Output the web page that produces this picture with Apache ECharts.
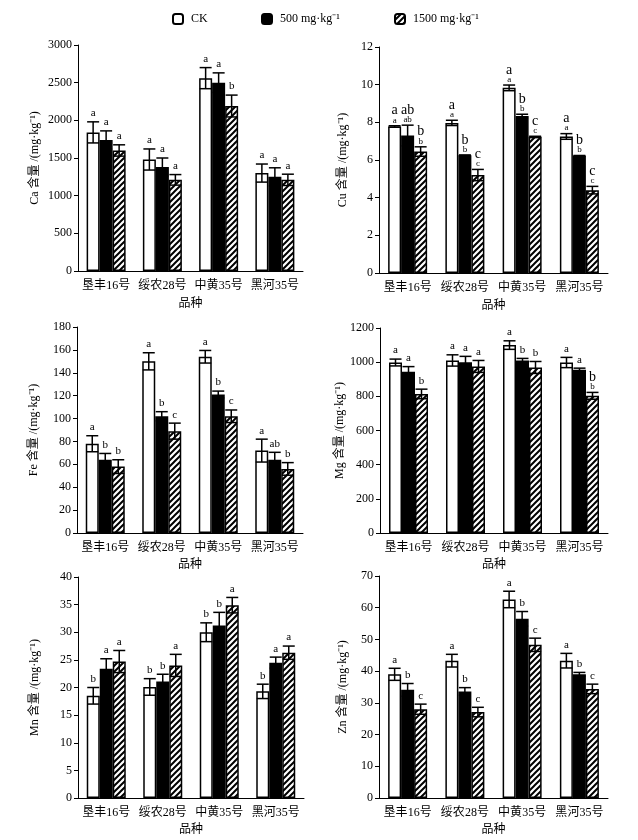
<!DOCTYPE html>
<html>
<head>
<meta charset="utf-8">
<script src="https://cdn.jsdelivr.net/npm/echarts@6/dist/echarts.min.js"></script>
<style>
html,body{margin:0;padding:0;background:#fff;}
#main{width:638px;height:840px;}
</style>
</head>
<body>
<div id="main"></div>
<script>
var varieties=['垦丰16号','绥农28号','中黄35号','黑河35号'];
var treatments=['CK','500 mg·kg⁻¹','1500 mg·kg⁻¹'];

// rows: CK, 500, 1500 ; columns follow varieties
var caMeans=[[1840,1480,2560,1300],[1740,1380,2500,1250],[1600,1210,2190,1210]];
var caErrs=[[140,140,140,120],[120,120,130,120],[75,70,145,75]];
var caLetters=[['a','a','a','a'],['a','a','a','a'],['a','a','b','a']];

var cuMeans=[[7.78,7.97,9.83,7.25],[7.3,6.25,8.33,6.22],[6.45,5.2,7.23,4.4]];
var cuErrs=[[0.04,0.14,0.15,0.15],[0.55,0.02,0.1,0.02],[0.25,0.3,0.03,0.2]];
var cuLetters=[['a/a','a/a','a/a','a/a'],['ab/ab','b/b','b/b','b/b'],['b/b','c/c','c/c','c/c']];

var feMeans=[[78,150,154,72],[64,102,121,64],[58,89,102,56]];
var feErrs=[[7,7.5,5.5,10],[5.5,4,3,6.5],[6,7,5.5,5.5]];
var feLetters=[['a','a','a','a'],['b','b','b','ab'],['b','c','c','b']];

var mgMeans=[[998,1010,1100,998],[944,1000,1010,955],[814,975,969,803]];
var mgErrs=[[20,33,25,30],[30,34,12,10],[28,35,35,20]];
var mgLetters=[['a','a','a','a'],['a','a','b','a'],['b','a','b','b/b']];

var mnMeans=[[18.5,20.1,30,19.3],[23.4,21.1,31.2,24.5],[24.7,24,34.9,26.3]];
var mnErrs=[[1.5,1.5,1.7,1.3],[1.8,1.3,2.4,1],[2,2,1.4,1.2]];
var mnLetters=[['b','b','b','b'],['a','b','b','a'],['a','a','a','a']];

var znMeans=[[39,43.3,62.6,43.3],[34.1,33.6,56.5,39],[28,27.1,48.3,34.4]];
var znErrs=[[1.9,2,2.6,2.3],[2,1.2,2.3,0.6],[1.6,1.5,2.1,1.5]];
var znLetters=[['a','a','a','a'],['b','b','b','b'],['c','c','c','c']];

var yNames=['Ca 含量 /(mg·kg⁻¹)','Cu 含量 /(mg·kg⁻¹)','Fe 含量 /(mg·kg⁻¹)','Mg 含量 /(mg·kg⁻¹)','Mn 含量 /(mg·kg⁻¹)','Zn 含量 /(mg·kg⁻¹)'];
var yMax=[3000,12,180,1200,40,70];
var yStep=[500,2,20,200,5,10];

var panels=[
    {means:caMeans,errs:caErrs,letters:caLetters},
    {means:cuMeans,errs:cuErrs,letters:cuLetters},
    {means:feMeans,errs:feErrs,letters:feLetters},
    {means:mgMeans,errs:mgErrs,letters:mgLetters},
    {means:mnMeans,errs:mnErrs,letters:mnLetters},
    {means:znMeans,errs:znErrs,letters:znLetters}
];

var grids=[
    {left:78,top:45,width:225,height:226},
    {left:379,top:47,width:229,height:226},
    {left:77,top:327,width:226,height:206},
    {left:380,top:328,width:228,height:205},
    {left:78,top:577,width:226,height:221},
    {left:379,top:576,width:229,height:222}
];

var FONT='"Liberation Serif","Noto Sans CJK SC",serif';
var BAR_W=13;

function makeHatch(){
    var c=document.createElement('canvas');
    c.width=6;c.height=6;
    var ctx=c.getContext('2d');
    ctx.fillStyle='#fff';
    ctx.fillRect(0,0,6,6);
    ctx.strokeStyle='#000';
    ctx.lineWidth=2;
    ctx.beginPath();
    ctx.moveTo(0,6);ctx.lineTo(6,0);
    ctx.moveTo(-3,3);ctx.lineTo(3,-3);
    ctx.moveTo(3,9);ctx.lineTo(9,3);
    ctx.stroke();
    return c;
}
var hatch={image:makeHatch(),repeat:'repeat'};
var fills=['#fff','#000',hatch];

var xAxes=[],yAxes=[],series=[];

grids.forEach(function(g,i){
    xAxes.push({
        type:'category',gridIndex:i,data:varieties,
        name:'品种',nameLocation:'middle',nameGap:i<2?27:26,
        nameTextStyle:{fontFamily:FONT,fontSize:12,color:'#000'},
        axisLine:{lineStyle:{color:'#000',width:1}},
        axisTick:{length:4,lineStyle:{color:'#000'}},
        axisLabel:{fontFamily:FONT,fontSize:12,color:'#000',margin:9,interval:0}
    });
    yAxes.push({
        type:'value',gridIndex:i,min:0,max:yMax[i],interval:yStep[i],
        name:yNames[i],nameLocation:'middle',nameGap:i%2==0?37:30,
        nameTextStyle:{fontFamily:FONT,fontSize:12,color:'#000'},
        axisLine:{show:true,lineStyle:{color:'#000',width:1}},
        axisTick:{show:true,length:4,lineStyle:{color:'#000'}},
        axisLabel:{fontFamily:FONT,fontSize:12,color:'#000',margin:6,
            formatter:function(v){return String(v);}},
        splitLine:{show:false}
    });

    var p=panels[i];
    var errData=[],errLetters=[];
    treatments.forEach(function(t,k){
        series.push({
            name:t,type:'bar',xAxisIndex:i,yAxisIndex:i,
            barWidth:BAR_W,barGap:'0%',
            itemStyle:{color:fills[k],borderColor:'#000',borderWidth:1.5},
            data:p.means[k]
        });
        p.means[k].forEach(function(v,c){
            errData.push([c,k,v,p.errs[k][c]]);
            errLetters.push(p.letters[k][c]);
        });
    });

    series.push({
        type:'custom',xAxisIndex:i,yAxisIndex:i,z:5,clip:false,
        encode:{x:0,y:2},
        data:errData,
        renderItem:function(params,api){
            var c=api.value(0),k=api.value(1),v=api.value(2),e=api.value(3);
            var top=api.coord([c,v+e]);
            var bot=api.coord([c,v-e]);
            var x=top[0]+(k-1)*BAR_W;
            var hw=6;
            var st={stroke:'#000',lineWidth:1.5};
            var kids=[
                {type:'line',shape:{x1:x,y1:top[1],x2:x,y2:bot[1]},style:st},
                {type:'line',shape:{x1:x-hw,y1:top[1],x2:x+hw,y2:top[1]},style:st},
                {type:'line',shape:{x1:x-hw,y1:bot[1],x2:x+hw,y2:bot[1]},style:st}
            ];
            var parts=errLetters[params.dataIndex].split('/');
            if(parts.length==2){
                kids.push({type:'text',style:{text:parts[1],x:x,y:top[1]-1,align:'center',verticalAlign:'bottom',
                    font:'9px '+FONT,fill:'#000'}});
                kids.push({type:'text',style:{text:parts[0],x:x,y:top[1]-8,align:'center',verticalAlign:'bottom',
                    font:'14px '+FONT,fill:'#000'}});
            }else{
                kids.push({type:'text',style:{text:parts[0],x:x,y:top[1]-3,align:'center',verticalAlign:'bottom',
                    font:'11px '+FONT,fill:'#000'}});
            }
            return {type:'group',children:kids};
        }
    });
});

var legendPos=[167,256,389];
var legends=treatments.map(function(t,k){
    return {
        data:[t],left:legendPos[k],top:8,itemWidth:10,itemHeight:10,
        textStyle:{fontFamily:FONT,fontSize:12,color:'#000',padding:[0,0,0,3]},
        selectedMode:false
    };
});

var chart=echarts.init(document.getElementById('main'));
chart.setOption({
    backgroundColor:'#fff',
    animation:false,
    legend:legends,
    grid:grids,
    xAxis:xAxes,
    yAxis:yAxes,
    series:series
});
</script>
</body>
</html>
